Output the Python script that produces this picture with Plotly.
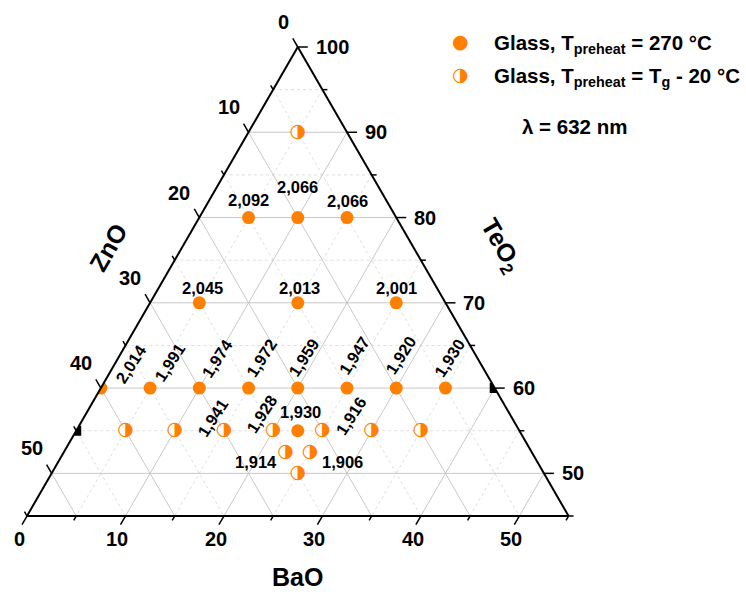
import math
import plotly.graph_objects as go

# ---------------- data ----------------
# Glass, T_preheat = 270 °C  (filled markers)
teo2_f = [80, 80, 80, 70, 70, 70, 60, 60, 60, 60, 60, 60, 60, 60, 55]
zno_f = [15, 10, 5, 25, 15, 5, 40, 35, 30, 25, 20, 15, 10, 5, 22.5]
bao_f = [5, 10, 15, 5, 15, 25, 0, 5, 10, 15, 20, 25, 30, 35, 22.5]
n_f = [2.092, 2.066, 2.066, 2.045, 2.013, 2.001, 2.014, 1.991, 1.974, 1.972,
       1.959, 1.947, 1.920, 1.930, 1.930]

# Glass, T_preheat = Tg - 20 °C  (half-filled markers)
teo2_h = [90, 55, 55, 55, 55, 55, 55, 55, 52.5, 52.5, 50]
zno_h = [5, 40, 35, 30, 25, 20, 15, 10, 25, 22.5, 25]
bao_h = [5, 5, 10, 15, 20, 25, 30, 35, 22.5, 25, 25]
n_h = [None, None, None, 1.941, 1.928, None, 1.916, None, 1.914, 1.906, None]

# black edge markers
teo2_k = [55, 60]
zno_k = [45, 0]
bao_k = [0, 40]

# axis ticks
zno_ticks = [0, 10, 20, 30, 40, 50]
bao_ticks = [0, 10, 20, 30, 40, 50]
teo2_ticks = [50, 60, 70, 80, 90, 100]
zno_minor = [5, 15, 25, 35, 45, 55]
bao_minor = [5, 15, 25, 35, 45, 55]
teo2_minor = [45, 55, 65, 75, 85, 95]

# grid values
teo2_grid = [50, 55, 60, 65, 70, 75, 80, 85, 90, 95]
zno_grid = [5, 10, 15, 20, 25, 30, 35, 40, 45, 50]
bao_grid = [5, 10, 15, 20, 25, 30, 35, 40, 45, 50]

# ---------------- styles ----------------
# label offsets in pixels (dx right, dy down) and rotation
lab_f = [(0, -18, 0), (0, -31, 0), (0, -17, 0), (3, -15, 0), (2, -15, 0), (0, -15, 0),
         (30, -24, -57), (19, -25.5, -57), (18, -30, -57), (13, -30, -57),
         (5.5, -30.5, -57), (7, -32, -57), (4.5, -33, -57), (4, -30, -57), (3, -19, 0)]
lab_h = [None, None, None, (-11.4, -13, -57), (-11.5, -16.7, -57), None,
         (-21, -15, -57), None, (-29.7, 9.7, 0), (32.3, 9.7, 0), None]

FW, FH = 746, 592
ML, MT, MB = 27, 47, 76
PH = FH - MT - MB
PW = PH * 2 / math.sqrt(3)
MR = FW - ML - PW
UX = 110 / PW
UY = 55 / PH

ORANGE = '#FF8000'
FONT = 'Liberation Sans, Arial, sans-serif'
GFONT = 'DejaVu Sans'
GRID_MAJ = '#c8c8c8'
GRID_MIN = '#dedede'


def px(x):
    return x / FW


def py(y):
    return 1 - y / FH


fig = go.Figure()


def grid_trace(vals, major, color, dash):
    a, b, c = [], [], []
    for kind, vs in vals:
        for v in vs:
            if (v % 10 == 0) != major:
                continue
            if kind == 'T':
                p1, p2 = (v, 100 - v, 0), (v, 0, 100 - v)
            elif kind == 'Z':
                p1, p2 = (100 - v, v, 0), (45, v, 55 - v)
            else:
                p1, p2 = (100 - v, 0, v), (45, 55 - v, v)
            a += [p1[0], p2[0], None]
            b += [p1[1], p2[1], None]
            c += [p1[2], p2[2], None]
    return go.Scatterternary(a=a, b=b, c=c, mode='lines',
                             line=dict(color=color, width=1, dash=dash),
                             hoverinfo='skip', showlegend=False)


gv = [('T', teo2_grid), ('Z', zno_grid), ('B', bao_grid)]
fig.add_trace(grid_trace(gv, False, GRID_MIN, 'dot'))
fig.add_trace(grid_trace(gv, True, GRID_MAJ, 'solid'))

# black edge markers (clipped by the triangle)
fig.add_trace(go.Scatterternary(a=teo2_k, b=zno_k, c=bao_k, mode='markers',
                                marker=dict(symbol='square', size=10, color='black'),
                                cliponaxis=True, hoverinfo='skip', showlegend=False))

# filled markers
fig.add_trace(go.Scatterternary(a=teo2_f, b=zno_f, c=bao_f, mode='markers',
                                marker=dict(symbol='circle', size=13, color=ORANGE),
                                cliponaxis=True, showlegend=False))

# half-filled markers: white disc + half-filled circle glyph
fig.add_trace(go.Scatterternary(a=teo2_h, b=zno_h, c=bao_h, mode='markers',
                                marker=dict(symbol='circle', size=12, color='white'),
                                cliponaxis=True, hoverinfo='skip', showlegend=False))
fig.add_trace(go.Scatterternary(a=teo2_h, b=zno_h, c=bao_h, mode='text',
                                text=['\u25D1'] * len(teo2_h), textposition='middle center',
                                textfont=dict(family=GFONT, size=19, color=ORANGE),
                                cliponaxis=True, showlegend=False))

# tick marks on a cartesian overlay aligned with the ternary
tx, ty = [], []


def add_tick(x0, y0, dxp, dyp, L):
    tx.extend([x0, x0 + dxp * L * UX, None])
    ty.extend([y0, y0 - dyp * L * UY, None])


s3 = math.sqrt(3) / 2
for z in sorted(zno_ticks + zno_minor):
    add_tick(-z, 100 - z, -0.5, -s3, 10 if z in zno_ticks else 5)
for bv in sorted(bao_ticks + bao_minor):
    add_tick(2 * bv - 55, 45, -0.5, s3, 10 if bv in bao_ticks else 5)
for t in sorted(teo2_ticks + teo2_minor):
    add_tick(100 - t, t, 1, 0, 10 if t in teo2_ticks else 5)

fig.add_trace(go.Scatter(x=tx, y=ty, mode='lines', line=dict(color='black', width=1.5),
                         hoverinfo='skip', showlegend=False))

tick_font = dict(family=FONT, size=20, color='black', weight='bold')
for z in zno_ticks:
    fig.add_annotation(x=-z, y=100 - z, xref='x', yref='y', text=str(z), showarrow=False,
                       xanchor='right', yanchor='middle', xshift=-7, yshift=25, font=tick_font)
for bv in bao_ticks:
    fig.add_annotation(x=2 * bv - 55, y=45, xref='x', yref='y', text=str(bv), showarrow=False,
                       xanchor='center', yanchor='middle', xshift=-8, yshift=-23, font=tick_font)
for t in teo2_ticks:
    fig.add_annotation(x=100 - t, y=t, xref='x', yref='y', text=str(t), showarrow=False,
                       xanchor='left', yanchor='middle', xshift=16, yshift=0, font=tick_font)

# value labels
lab_font = dict(family=FONT, size=16.5, color='black', weight='bold')


def fmt(v):
    return f"{v:.3f}".replace('.', ',')


for a_, b_, c_, n, st in zip(teo2_f, zno_f, bao_f, n_f, lab_f):
    fig.add_annotation(x=c_ - b_, y=a_, xref='x', yref='y', text=fmt(n), showarrow=False,
                       xanchor='center', yanchor='middle', xshift=st[0], yshift=-st[1],
                       textangle=st[2], font=lab_font)
for a_, b_, c_, n, st in zip(teo2_h, zno_h, bao_h, n_h, lab_h):
    if n is None:
        continue
    fig.add_annotation(x=c_ - b_, y=a_, xref='x', yref='y', text=fmt(n), showarrow=False,
                       xanchor='center', yanchor='middle', xshift=st[0], yshift=-st[1],
                       textangle=st[2], font=lab_font)

# axis titles
title_font = dict(family=FONT, size=25, color='black', weight='bold')
C = dict(xref='paper', yref='paper', xanchor='center', yanchor='middle', showarrow=False)
fig.add_annotation(x=px(107.5), y=py(247.5), text='ZnO', textangle=-60, font=title_font, **C)
fig.add_annotation(x=px(500.5), y=py(246), text='TeO<sub>2</sub>', textangle=60,
                   font=title_font, **C)
fig.add_annotation(x=px(297.5), y=py(577), text='BaO', font=title_font, borderpad=0, **C)

# legend
leg_font = dict(family=FONT, size=20.5, color='black', weight='bold')
fig.add_annotation(x=px(460.7), y=py(41), text='\u25CF',
                   font=dict(family=GFONT, size=19, color=ORANGE), **C)
fig.add_annotation(x=px(460.7), y=py(74), text='\u25D1',
                   font=dict(family=GFONT, size=19, color=ORANGE), **C)
L = dict(xref='paper', yref='paper', xanchor='left', yanchor='middle', showarrow=False)
fig.add_annotation(x=px(492), y=py(44), text='Glass, T<sub>preheat</sub> = 270 °C',
                   font=leg_font, **L)
fig.add_annotation(x=px(492), y=py(77), text='Glass, T<sub>preheat</sub> = T<sub>g</sub> - 20 °C',
                   font=leg_font, **L)
fig.add_annotation(x=px(574.7), y=py(126.7), text='\u03bb = 632 nm', font=leg_font, **C)

axis_common = dict(showgrid=False, showticklabels=False, ticks='', linecolor='black',
                   linewidth=2, title=dict(text=''))
fig.update_layout(
    width=FW, height=FH,
    margin=dict(l=0, r=0, t=0, b=0, pad=0),
    paper_bgcolor='white', plot_bgcolor='white',
    showlegend=False,
    xaxis=dict(domain=[0, 1], range=[-55 - ML * UX, 55 + MR * UX], visible=False, fixedrange=True),
    yaxis=dict(domain=[0, 1], range=[45 - MB * UY, 100 + MT * UY], visible=False, fixedrange=True),
    ternary=dict(
        sum=100,
        domain=dict(x=[ML / FW, (ML + PW) / FW], y=[MB / FH, (MB + PH) / FH]),
        bgcolor='white',
        aaxis=dict(min=45, **axis_common),
        baxis=dict(min=0, **axis_common),
        caxis=dict(min=0, **axis_common),
    ),
)

fig.write_html("out.html")
